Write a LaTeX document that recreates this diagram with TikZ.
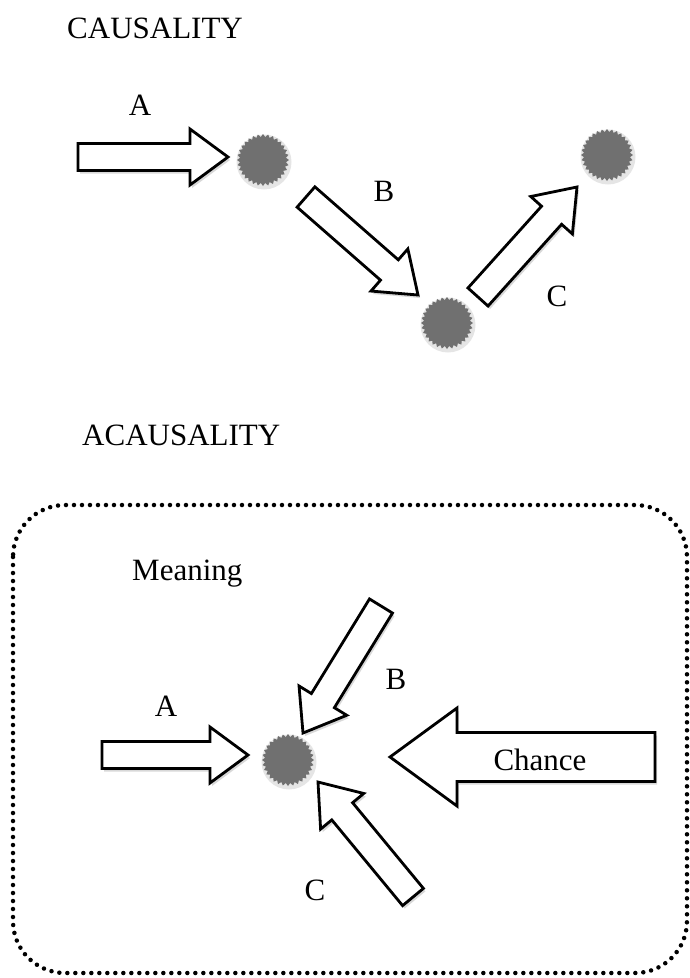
\documentclass[tikz,border=0pt]{standalone}
\usepackage{fontspec}
\setmainfont{Liberation Serif}
\usetikzlibrary{calc,shapes.geometric,shadows}
\definecolor{dotgray}{RGB}{112,112,112}
\newcommand\blockarrow[5]{%
  \coordinate (hb) at ($(#2)!#5!(#1)$);
  \draw[barrow] ($(#1)!#3!90:(#2)$) -- ($(hb)!#3!90:(#2)$) -- ($(hb)!#4!90:(#2)$)
    -- (#2) -- ($(hb)!#4!-90:(#2)$) -- ($(hb)!#3!-90:(#2)$) -- ($(#1)!#3!-90:(#2)$) -- cycle;}
\begin{document}
\begin{tikzpicture}[x=1pt,y=-1pt,
  lab/.style={font=\fontsize{31}{36}\selectfont, inner sep=0pt, anchor=base},
  ttl/.style={font=\fontsize{31}{36}\selectfont, inner sep=0pt, anchor=base west},
  barrow/.style={draw=black, line width=2.8pt, line join=miter, fill=white,
    drop shadow={shadow xshift=2pt, shadow yshift=-3pt, opacity=0.3, fill=gray}},
  dot/.style={star, star points=32, star point ratio=1.13, minimum size=52pt,
    inner sep=0pt, fill=dotgray, draw=none},
  halo/.style={circle, minimum size=55pt, inner sep=0pt, fill=gray, opacity=0.2, draw=none},
  frame/.style={line width=4.5pt, line cap=round, dash pattern=on 0pt off 8pt, rounded corners=52pt}]
\fill[white] (0,0) rectangle (690,978);
\useasboundingbox (0,0) rectangle (690,978);

% ---------- CAUSALITY ----------
\node[ttl] (t1) at (67,38) {CAUSALITY};

\node[halo] (h1) at (264,162) {};
\node[halo] (h2) at (448,325) {};
\node[halo] (h3) at (608,157) {};
\node[dot] (d1) at (263,160) {};
\node[dot] (d2) at (447,323) {};
\node[dot] (d3) at (607,155) {};

\coordinate (a1s) at (78,157);  \coordinate (a1t) at (228,157);
\coordinate (b1s) at (306,197); \coordinate (b1t) at (418,295);
\coordinate (c1s) at (478,297); \coordinate (c1t) at (577,187);
\blockarrow{a1s}{a1t}{13.5pt}{28pt}{38pt}
\blockarrow{b1s}{b1t}{13.5pt}{28pt}{38pt}
\blockarrow{c1s}{c1t}{13.5pt}{28pt}{38pt}

\node[lab] (la1) at (140,115) {A};
\node[lab] (lb1) at (384,201) {B};
\node[lab] (lc1) at (557,306) {C};

% ---------- ACAUSALITY ----------
\node[ttl] (t2) at (82,445) {ACAUSALITY};

\draw[frame] (13,505) rectangle (687,973);

\node[lab, anchor=base west] (mean) at (132,580) {Meaning};

\node[halo] (h4) at (289,762) {};
\node[dot] (d4) at (288,760) {};

\coordinate (a2s) at (102,755); \coordinate (a2t) at (248,755);
\coordinate (b2s) at (381,606); \coordinate (b2t) at (303,733);
\coordinate (c2s) at (413,897); \coordinate (c2t) at (318,782);
\coordinate (chs) at (655,757); \coordinate (cht) at (390,757);
\blockarrow{a2s}{a2t}{13.5pt}{28pt}{38pt}
\blockarrow{b2s}{b2t}{13.5pt}{28pt}{38pt}
\blockarrow{c2s}{c2t}{13.5pt}{28pt}{38pt}
\blockarrow{chs}{cht}{24.5pt}{49pt}{67pt}

\node[lab] (la2) at (166,716) {A};
\node[lab] (lb2) at (396,689) {B};
\node[lab] (lc2) at (315,900) {C};
\node[lab] (lch) at (540,770) {Chance};
\end{tikzpicture}
\end{document}
